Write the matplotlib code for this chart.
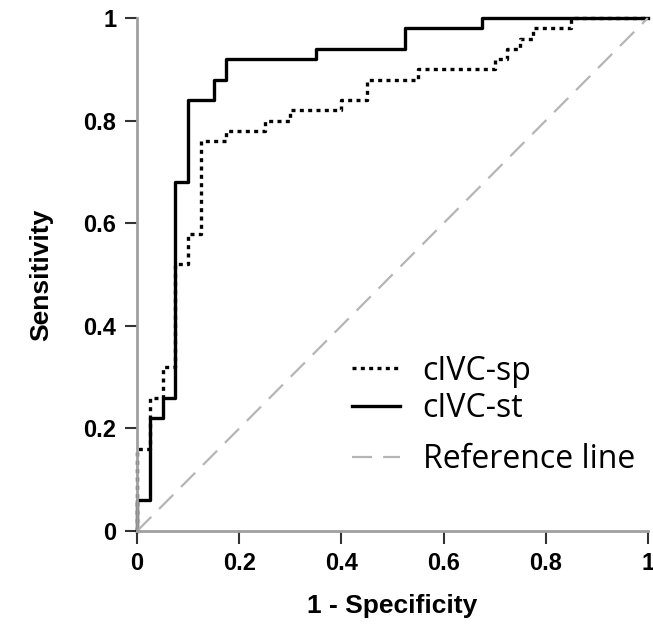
import matplotlib
matplotlib.use("Agg")
import matplotlib.pyplot as plt

# ROC step points (1 - specificity, sensitivity)
sp_fpr = [0, 0, 0.025, 0.025, 0.05, 0.05, 0.075, 0.075, 0.1, 0.1, 0.125, 0.125,
          0.175, 0.175, 0.25, 0.25, 0.30, 0.30, 0.40, 0.40, 0.45, 0.45, 0.55, 0.55,
          0.70, 0.70, 0.725, 0.725, 0.75, 0.75, 0.775, 0.775, 0.85, 0.85, 1.0]
sp_tpr = [0, 0.16, 0.16, 0.26, 0.26, 0.32, 0.32, 0.52, 0.52, 0.58, 0.58, 0.76,
          0.76, 0.78, 0.78, 0.80, 0.80, 0.82, 0.82, 0.84, 0.84, 0.88, 0.88, 0.90,
          0.90, 0.92, 0.92, 0.94, 0.94, 0.96, 0.96, 0.98, 0.98, 1.0, 1.0]

st_fpr = [0, 0, 0.025, 0.025, 0.05, 0.05, 0.075, 0.075, 0.1, 0.1, 0.15, 0.15,
          0.175, 0.175, 0.35, 0.35, 0.525, 0.525, 0.675, 0.675, 1.0]
st_tpr = [0, 0.06, 0.06, 0.22, 0.22, 0.26, 0.26, 0.68, 0.68, 0.84, 0.84, 0.88,
          0.88, 0.92, 0.92, 0.94, 0.94, 0.98, 0.98, 1.0, 1.0]

ref = [0, 1]
ticks = [0, 0.2, 0.4, 0.6, 0.8, 1]
tick_labels = ["0", "0.2", "0.4", "0.6", "0.8", "1"]

fig = plt.figure(figsize=(6.53, 6.24), dpi=100)
ax = fig.add_axes([0.21, 0.149, 0.782, 0.822])

l_sp, = ax.plot(sp_fpr, sp_tpr, color="black", lw=2.4, linestyle=(0, (1.2, 1.3)),
                label="cIVC-sp", clip_on=False)
l_st, = ax.plot(st_fpr, st_tpr, color="black", lw=2.4, label="cIVC-st", clip_on=False)
l_ref, = ax.plot(ref, ref, color="#b5b5b5", lw=1.6, linestyle=(0, (9, 5)),
                 label="Reference line", clip_on=False)

ax.set_xlim(0, 1)
ax.set_ylim(0, 1)
ax.set_xticks(ticks)
ax.set_xticklabels(tick_labels)
ax.set_yticks(ticks)
ax.set_yticklabels(tick_labels)

for s in ["top", "right"]:
    ax.spines[s].set_visible(False)
for s in ["left", "bottom"]:
    ax.spines[s].set_color("#a0a0a0")
    ax.spines[s].set_linewidth(2)

ax.tick_params(length=9, width=1.5, color="#333333", pad=6)
for lab in ax.get_xticklabels() + ax.get_yticklabels():
    lab.set_fontweight("bold")
    lab.set_fontsize(17)
    lab.set_fontfamily("Liberation Sans")

ax.set_xlabel("1 - Specificity", fontsize=19, fontweight="bold",
              family="Liberation Sans", labelpad=14)
ax.set_ylabel("Sensitivity", fontsize=19, fontweight="bold",
              family="Liberation Sans", labelpad=22)

leg_kw = dict(frameon=False, prop={"family": "Open Sans", "size": 23},
              handlelength=1.53, handletextpad=0.69, borderpad=0,
              borderaxespad=0, loc="center left")
leg1 = ax.legend(handles=[l_sp, l_st], bbox_to_anchor=(0.42, 0.275),
                 labelspacing=0.15, **leg_kw)
ax.add_artist(leg1)
ax.legend(handles=[l_ref], bbox_to_anchor=(0.42, 0.14), **leg_kw)

fig.savefig("out.png", dpi=100)
